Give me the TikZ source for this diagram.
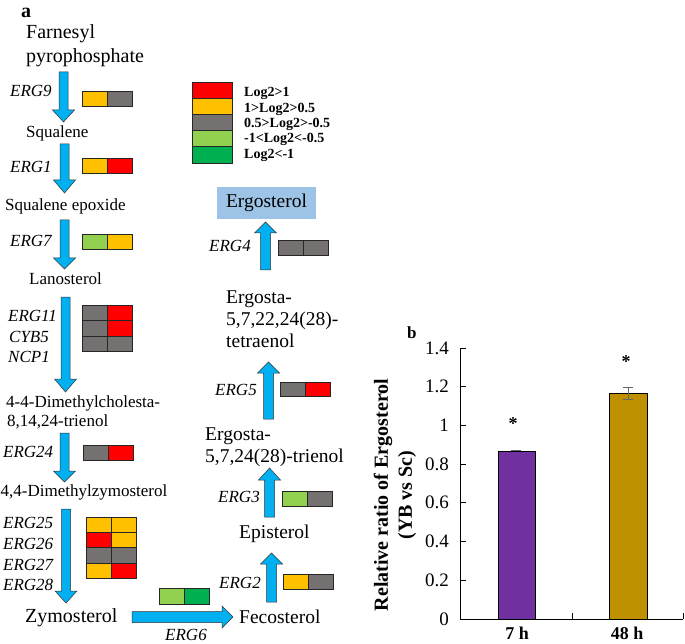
\documentclass[tikz,border=0pt]{standalone}
\usepackage{fontspec}
\setmainfont{Liberation Serif}
\definecolor{arrblue}{HTML}{00B0F0}
\definecolor{cred}{HTML}{FF0000}
\definecolor{cyel}{HTML}{FFC000}
\definecolor{cgray}{HTML}{767171}
\definecolor{clgreen}{HTML}{92D050}
\definecolor{cgreen}{HTML}{00B050}
\definecolor{ergbox}{HTML}{9DC3E6}
\definecolor{barpurple}{HTML}{7030A0}
\definecolor{bargold}{HTML}{BF9000}
\tikzset{
  lbl/.style={anchor=base west, inner sep=0pt, font=\fontsize{17}{20}\selectfont},
  big/.style={anchor=base west, inner sep=0pt, font=\fontsize{19.5}{23}\selectfont},
  gene/.style={anchor=base west, inner sep=0pt, font=\itshape\fontsize{17}{20}\selectfont},
  leg/.style={anchor=base west, inner sep=0pt, font=\bfseries\fontsize{14}{16}\selectfont},
  panel/.style={anchor=base west, inner sep=0pt, font=\bfseries\fontsize{20}{22}\selectfont},
  arrsty/.style={fill=arrblue, draw=black!80, line width=0.5pt},
  cellsty/.style={draw=black!85, line width=0.8pt},
  ticklbl/.style={anchor=east, inner sep=0pt, font=\fontsize{19}{22}\selectfont},
  catlbl/.style={anchor=north, inner sep=0pt, font=\bfseries\fontsize{18}{20}\selectfont},
  starlbl/.style={anchor=north, inner sep=0pt, font=\bfseries\fontsize{18}{20}\selectfont},
  axissty/.style={draw=black, line width=0.8pt},
}
% cx, top, headbase, tip
\newcommand{\blockdown}[4]{\draw[arrsty] (#1-4.5,#2) -- (#1+4.5,#2) -- (#1+4.5,#3) -- (#1+11,#3) -- (#1,#4) -- (#1-11,#3) -- (#1-4.5,#3) -- cycle;}
\newcommand{\blockup}[4]{\draw[arrsty] (#1-5,#2) -- (#1+5,#2) -- (#1+5,#3) -- (#1+11,#3) -- (#1,#4) -- (#1-11,#3) -- (#1-5,#3) -- cycle;}
% x, y, h, color
\newcommand{\gcell}[4]{\draw[cellsty, fill=#4] (#1,#2) rectangle ++(25,#3);}
\begin{document}
\begin{tikzpicture}[x=1pt,y=-1pt]
\useasboundingbox (0,0) rectangle (685,644);

% ---------- panel a ----------
\node[panel] (pa) at (21,18) {a};

\node[anchor=base west, inner sep=0pt, font=\fontsize{20}{24}\selectfont] (fpp1) at (26,39) {Farnesyl};
\node[anchor=base west, inner sep=0pt, font=\fontsize{20}{24}\selectfont] (fpp2) at (26,63) {pyrophosphate};
\node[lbl] (sq) at (26,138) {Squalene};
\node[lbl] (sqe) at (5,211) {Squalene epoxide};
\node[lbl] (lan) at (29,284) {Lanosterol};
\node[lbl] (dmc1) at (6,407) {4-4-Dimethylcholesta-};
\node[lbl] (dmc2) at (7,426) {8,14,24-trienol};
\node[lbl] (dmz) at (0.5,496) {4,4-Dimethylzymosterol};
\node[anchor=base west, inner sep=0pt, font=\fontsize{20}{24}\selectfont] (zym) at (25,622) {Zymosterol};

\node[gene] (g9) at (10,97) {ERG9};
\node[gene] (g1) at (10,173) {ERG1};
\node[gene] (g7) at (10,247) {ERG7};
\node[gene] (g11) at (8,321) {ERG11};
\node[gene] (gcyb) at (9,342) {CYB5};
\node[gene] (gncp) at (8,362) {NCP1};
\node[gene] (g24) at (3,457) {ERG24};
\node[gene] (g25) at (3,528) {ERG25};
\node[gene] (g26) at (3,549) {ERG26};
\node[gene] (g27) at (3,570) {ERG27};
\node[gene] (g28) at (3,590) {ERG28};
\node[gene] (g6) at (165,640) {ERG6};
\node[gene] (g2) at (219,588) {ERG2};
\node[gene] (g3) at (218,502) {ERG3};
\node[gene] (g5) at (215,395) {ERG5};
\node[gene] (g4) at (209,252) {ERG4};

\node[big] (fec) at (239,623) {Fecosterol};
\node[big] (epi) at (239,538) {Episterol};
\node[big] (tri1) at (205,440) {Ergosta-};
\node[big] (tri2) at (205,462) {5,7,24(28)-trienol};
\node[big] (tet1) at (226,303) {Ergosta-};
\node[big] (tet2) at (226,325) {5,7,22,24(28)-};
\node[big] (tet3) at (226,347) {tetraenol};
\node[fill=ergbox, minimum width=99pt, minimum height=32pt, inner sep=0pt,
      font=\fontsize{19.5}{23}\selectfont] (erg) at (266.5,203) {Ergosterol};

% arrows
\blockdown{63.5}{72}{110}{122}
\blockdown{64.5}{144}{180}{193}
\blockdown{64.5}{220}{258}{269}
\blockdown{65.5}{297}{379}{392}
\blockdown{64.5}{433}{471}{482}
\blockdown{66}{509}{591}{603}
\draw[arrsty] (132,611.5) -- (222,611.5) -- (222,606) -- (233,617) -- (222,628) -- (222,622.5) -- (132,622.5) -- cycle;
\blockup{271.5}{602}{564}{553}
\blockup{269.5}{517}{480}{468}
\blockup{268.5}{419}{373}{362}
\blockup{265.5}{270}{233}{222}

% gene cells
\gcell{82}{91}{15}{cyel}\gcell{107}{91}{15}{cgray}
\gcell{82}{158}{15.5}{cyel}\gcell{107}{158}{15.5}{cred}
\gcell{82}{234}{15}{clgreen}\gcell{107}{234}{15}{cyel}
\gcell{82}{305}{15.5}{cgray}\gcell{107}{305}{15.5}{cred}
\gcell{82}{320.5}{15.5}{cgray}\gcell{107}{320.5}{15.5}{cred}
\gcell{82}{336}{15.5}{cgray}\gcell{107}{336}{15.5}{cgray}
\gcell{83}{445}{15}{cgray}\gcell{108}{445}{15}{cred}
\gcell{86}{517}{15.3}{cyel}\gcell{111}{517}{15.3}{cyel}
\gcell{86}{532.3}{15.3}{cred}\gcell{111}{532.3}{15.3}{cyel}
\gcell{86}{547.6}{15.3}{cgray}\gcell{111}{547.6}{15.3}{cgray}
\gcell{86}{562.9}{15.3}{cyel}\gcell{111}{562.9}{15.3}{cred}
\gcell{159}{588}{16}{clgreen}\gcell{184}{588}{16}{cgreen}
\gcell{283}{574}{15}{cyel}\gcell{308}{574}{15}{cgray}
\gcell{282}{491}{15}{clgreen}\gcell{307}{491}{15}{cgray}
\gcell{280}{382}{14.5}{cgray}\gcell{305}{382}{14.5}{cred}
\gcell{278}{240}{15}{cgray}\gcell{303}{240}{15}{cgray}

% legend
\draw[cellsty, fill=cred] (192,82) rectangle (232,98.2);
\draw[cellsty, fill=cyel] (192,98.2) rectangle (232,114.4);
\draw[cellsty, fill=cgray] (192,114.4) rectangle (232,130.6);
\draw[cellsty, fill=clgreen] (192,130.6) rectangle (232,146.8);
\draw[cellsty, fill=cgreen] (192,146.8) rectangle (232,163);
\node[leg] (l1) at (244,97) {Log2>1};
\node[leg] (l2) at (244,112.3) {1>Log2>0.5};
\node[leg] (l3) at (244,127.6) {0.5>Log2>-0.5};
\node[leg] (l4) at (244,142.9) {-1<Log2<-0.5};
\node[leg] (l5) at (244,158.2) {Log2<-1};

% ---------- panel b ----------
\node[anchor=base west, inner sep=0pt, font=\bfseries\fontsize{17}{20}\selectfont] (pb) at (407,338) {b};
\fill[barpurple] (498,451.7) rectangle (535,619);
\draw[black, line width=0.8pt] (498,619) -- (498,451.7) -- (535,451.7) -- (535,619);
\fill[bargold] (609,393.5) rectangle (647,619);
\draw[black, line width=0.8pt] (609,619) -- (609,393.5) -- (647,393.5) -- (647,619);
% error bars
\draw[black!60, line width=0.9pt] (511,450.7) -- (521,450.7);
\draw[black!60, line width=0.9pt] (628,387.7) -- (628,399.3) (623,387.7) -- (633,387.7) (623,399.3) -- (633,399.3);
% axes
\draw[axissty] (460,348) -- (460,619) -- (683,619);
\foreach \v in {0,0.2,0.4,0.6,0.8,1,1.2,1.4} {
  \draw[axissty] (460,619-\v*193.6) -- (466,619-\v*193.6);
}
\node[ticklbl] (t0) at (449,619) {0};
\node[ticklbl] (t2) at (449,580.3) {0.2};
\node[ticklbl] (t4) at (449,541.6) {0.4};
\node[ticklbl] (t6) at (449,502.8) {0.6};
\node[ticklbl] (t8) at (449,464.1) {0.8};
\node[ticklbl] (t10) at (449,425.4) {1};
\node[ticklbl] (t12) at (449,386.7) {1.2};
\node[ticklbl] (t14) at (449,348) {1.4};
\draw[axissty] (572,619) -- (572,613);
\draw[axissty] (683,619) -- (683,613);
\node[starlbl] (s1) at (513,417) {*};
\node[starlbl] (s2) at (626,355) {*};
\node[catlbl] (c1) at (517,627) {7 h};
\node[catlbl] (c2) at (627,627) {48 h};
\node[rotate=90, align=center, inner sep=0pt, font=\bfseries\fontsize{20}{24}\selectfont] (ylab) at (395,495) {Relative ratio of Ergosterol\\(YB vs Sc)};
\end{tikzpicture}
\end{document}
